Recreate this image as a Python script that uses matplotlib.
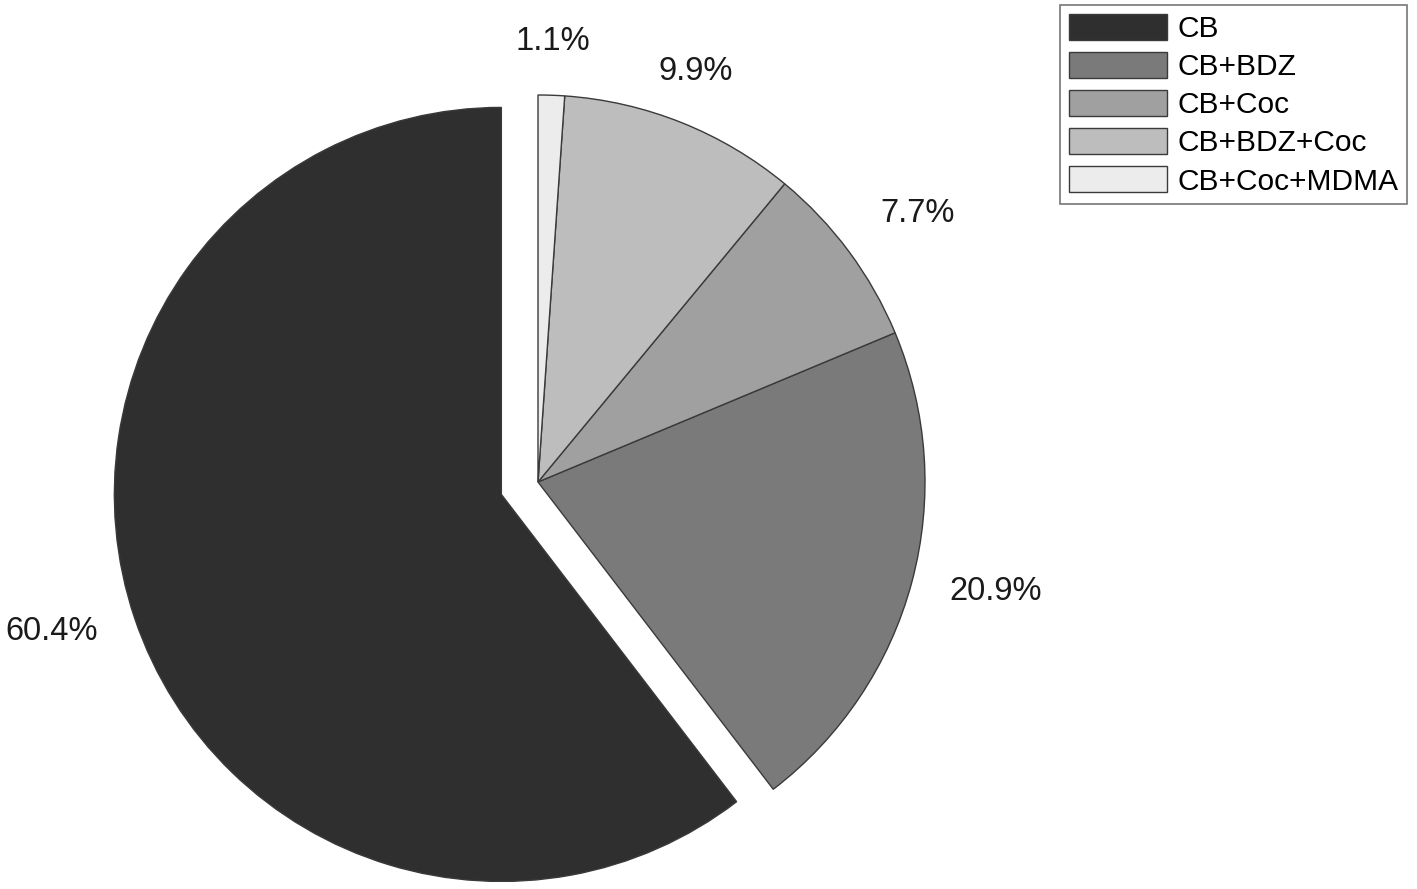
import matplotlib.pyplot as plt
import numpy as np

plt.rcParams["font.family"] = ["Liberation Sans", "DejaVu Sans"]

categories = ["CB", "CB+BDZ", "CB+Coc", "CB+BDZ+Coc", "CB+Coc+MDMA"]
shares = [60.4, 20.9, 7.7, 9.9, 1.1]
colors = ["#2f2f2f", "#7a7a7a", "#a0a0a0", "#bdbdbd", "#ececec"]
explode = [0.1, 0, 0, 0, 0]

fig = plt.figure(figsize=(14.17, 8.89), dpi=100)
ax = fig.add_axes([0, 0, 1, 1])

wedges, texts = ax.pie(
  shares,
  colors=colors,
  explode=explode,
  startangle=90,
  counterclock=True,
  labels=[f"{v:.1f}%" for v in shares],
  labeldistance=1.1,
  wedgeprops=dict(edgecolor="#3a3a3a", linewidth=1.0),
  textprops=dict(fontsize=23.5, color="#1a1a1a"),
)

# MATLAB-like label alignment around the pie
for w, t in zip(wedges, texts):
  ang = np.deg2rad((w.theta1 + w.theta2) / 2)
  c, s = np.cos(ang), np.sin(ang)
  if abs(c) < 0.5:
    t.set_ha("center")
  else:
    t.set_ha("left" if c > 0 else "right")
  if s > 0.5:
    t.set_va("bottom")
  elif s < -0.5:
    t.set_va("top")
  else:
    t.set_va("center")

# 387 px per data unit, pie centre at (538, 482) px from top-left
ax.set_xlim(-538 / 387, (1417 - 538) / 387)
ax.set_ylim(-(889 - 482) / 387, 482 / 387)
ax.set_aspect("auto")
ax.axis("off")

leg = fig.legend(
  wedges,
  categories,
  loc="upper right",
  bbox_to_anchor=(1407 / 1417, 1 - 5 / 889),
  fontsize=21.5,
  frameon=True,
  fancybox=False,
  edgecolor="#555555",
  handlelength=3.3,
  handleheight=0.95,
  handletextpad=0.33,
  labelspacing=0.3,
  borderpad=0.3,
  borderaxespad=0,
)
leg.get_frame().set_linewidth(1.2)

fig.savefig("out.png", dpi=100)
